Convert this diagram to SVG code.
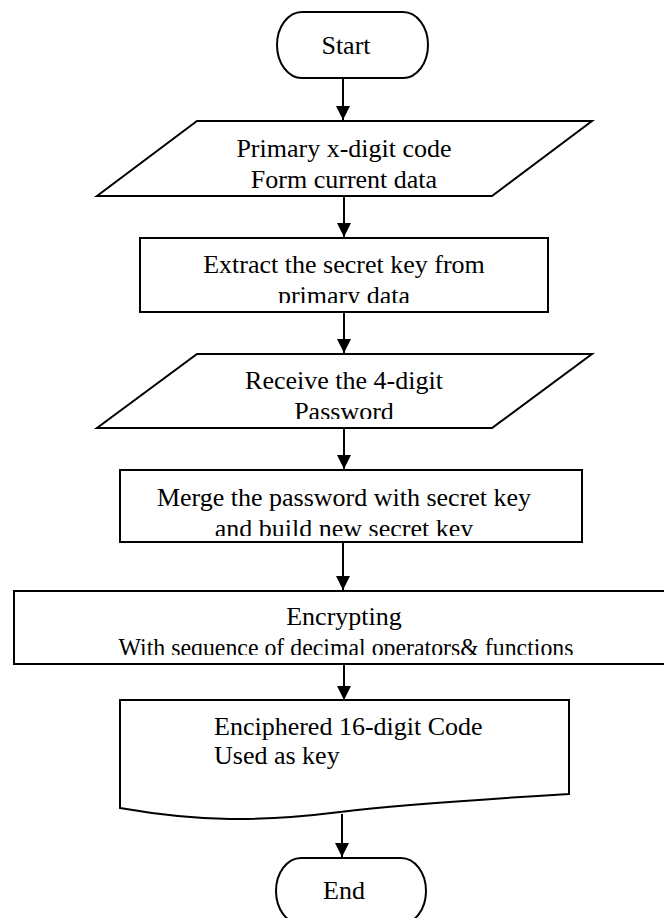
<svg xmlns="http://www.w3.org/2000/svg" width="664" height="918" viewBox="0 0 664 918">
<style>
.s{fill:#fff;stroke:#000;stroke-width:2}
.t{font-family:"Liberation Serif","Times New Roman",serif;font-size:26px;fill:#000}
.c{text-anchor:middle}
.e{stroke:#000;stroke-width:2;fill:none;marker-end:url(#ah)}
</style>
<defs>
<marker id="ah" markerUnits="userSpaceOnUse" markerWidth="16" markerHeight="16" refX="14" refY="7" orient="auto">
<path d="M0,0 L14,7 L0,14 Z" fill="#000"/>
</marker>
<clipPath id="c1"><rect x="0" y="100" width="664" height="89"/></clipPath>
<clipPath id="c2"><rect x="0" y="230" width="664" height="73"/></clipPath>
<clipPath id="c3"><rect x="0" y="350" width="664" height="69"/></clipPath>
<clipPath id="c4"><rect x="0" y="470" width="664" height="66"/></clipPath>
<clipPath id="c5"><rect x="0" y="590" width="664" height="65"/></clipPath>
</defs>
<g id="connectors">
<line class="e" x1="343" y1="78" x2="343" y2="120"/>
<line class="e" x1="344" y1="196" x2="344" y2="237"/>
<line class="e" x1="344" y1="312" x2="344" y2="353"/>
<line class="e" x1="344" y1="428" x2="344" y2="469"/>
<line class="e" x1="343" y1="542" x2="343" y2="590"/>
<line class="e" x1="344" y1="664" x2="344" y2="700"/>
<line class="e" x1="342" y1="814" x2="342" y2="857"/>
</g>
<g id="start">
<rect class="s" x="277" y="12" width="151" height="66" rx="25" ry="33"/>
<text class="t c" x="346" y="54">Start</text>
</g>
<g id="input1">
<polygon class="s" points="197,121 592,121 492,196 97,196"/>
<g clip-path="url(#c1)">
<text class="t c" x="344" y="157">Primary x-digit code</text>
<text class="t c" x="344" y="188">Form current data</text>
</g>
</g>
<g id="extract">
<rect class="s" x="140" y="238" width="408" height="74"/>
<g clip-path="url(#c2)">
<text class="t c" x="344" y="273">Extract the secret key from</text>
<text class="t c" x="344" y="304">primary data</text>
</g>
</g>
<g id="input2">
<polygon class="s" points="197,354 592,354 492,428 97,428"/>
<g clip-path="url(#c3)">
<text class="t c" x="344" y="389">Receive the 4-digit</text>
<text class="t c" x="344" y="420">Password</text>
</g>
</g>
<g id="merge">
<rect class="s" x="120" y="470" width="462" height="72"/>
<g clip-path="url(#c4)">
<text class="t c" x="344" y="506">Merge the password with secret key</text>
<text class="t c" x="344" y="537">and build new secret key</text>
</g>
</g>
<g id="encrypt">
<rect class="s" x="14" y="591" width="700" height="73"/>
<g clip-path="url(#c5)">
<text class="t c" x="344" y="625">Encrypting</text>
<text class="t c" x="346" y="656" textLength="455" lengthAdjust="spacingAndGlyphs">With sequence of decimal operators&amp; functions</text>
</g>
</g>
<g id="output">
<path class="s" d="M120,700 H569 V794 C470,800 390,806 340,812 C260,822 200,822 120,808 Z"/>
<text class="t" x="214" y="735">Enciphered 16-digit Code</text>
<text class="t" x="214" y="764">Used as key</text>
</g>
<g id="end">
<rect class="s" x="276" y="858" width="150" height="66" rx="25" ry="33"/>
<text class="t c" x="344" y="899">End</text>
</g>
</svg>
